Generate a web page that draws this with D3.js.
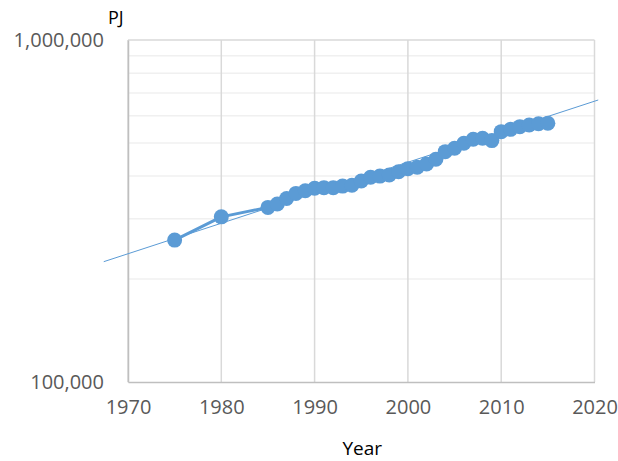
<!DOCTYPE html>
<html lang="en">
<head>
<meta charset="UTF-8">
<title>PJ by Year</title>
<style>
    body { margin: 0; background: #fff; }
    svg { display: block; }
    .tick text { font-family: "Open Sans", sans-serif; fill: #595959; }
</style>
</head>
<body>
<svg width="618" height="461"></svg>
<script src="https://d3js.org/d3.v7.min.js"></script>
<script>
    // Data
    var years = [1975, 1980, 1985, 1986, 1987, 1988, 1989, 1990, 1991, 1992, 1993, 1994,
        1995, 1996, 1997, 1998, 1999, 2000, 2001, 2002, 2003, 2004, 2005, 2006,
        2007, 2008, 2009, 2010, 2011, 2012, 2013, 2014, 2015];
    var values = [260000, 304000, 324000, 331500, 344000, 356000, 362500, 368500, 370000, 370000,
        374000, 376000, 387000, 397000, 400000, 403000, 412000, 420500, 424500, 434000,
        448000, 471500, 482500, 499000, 512500, 516000, 508000, 539500, 548000, 558000,
        564000, 569000, 571000];

    // exponential trendline end points (straight on the log axis)
    var trendYears = [1967.4, 2020.4];
    var trendValues = [224800, 667700];

    var xTicks = [1970, 1980, 1990, 2000, 2010, 2020];
    var yMajorTicks = [100000, 1000000];
    var yMinorTicks = [200000, 300000, 400000, 500000, 600000, 700000, 800000, 900000];

    var svg = d3.select("svg");
    var plotLeft = 128, plotTop = 40, plotRight = 594.5, plotBottom = 382;

    var x = d3.scaleLinear().domain([1970, 2020]).range([plotLeft, plotRight]);
    var y = d3.scaleLog().domain([100000, 1000000]).range([plotBottom, plotTop]);

    var color = "#5b9bd5";

    // minor horizontal gridlines
    svg.append("g").selectAll("line")
        .data(yMinorTicks)
        .enter().append("line")
        .attr("x1", plotLeft).attr("x2", plotRight)
        .attr("y1", function (d) { return y(d); })
        .attr("y2", function (d) { return y(d); })
        .attr("stroke", "#f0f0f0")
        .attr("stroke-width", 1.5);

    // vertical gridlines
    svg.append("g").selectAll("line")
        .data(xTicks)
        .enter().append("line")
        .attr("x1", function (d) { return x(d); })
        .attr("x2", function (d) { return x(d); })
        .attr("y1", plotTop).attr("y2", plotBottom)
        .attr("stroke", "#d9d9d9")
        .attr("stroke-width", 1.5);

    // top major gridline
    svg.append("line")
        .attr("x1", plotLeft).attr("x2", plotRight)
        .attr("y1", y(1000000)).attr("y2", y(1000000))
        .attr("stroke", "#d9d9d9").attr("stroke-width", 1.5);

    // axes
    var xAxis = svg.append("g")
        .attr("class", "x-axis")
        .attr("transform", "translate(0," + plotBottom + ")")
        .call(d3.axisBottom(x).tickValues(xTicks).tickSize(0).tickPadding(18).tickFormat(d3.format("d")));
    xAxis.select(".domain").attr("stroke", "#bfbfbf").attr("stroke-width", 1.5);
    xAxis.selectAll("text").style("font-size", "20px");

    var yAxis = svg.append("g")
        .attr("class", "y-axis")
        .attr("transform", "translate(" + plotLeft + ",0)")
        .call(d3.axisLeft(y).tickValues(yMajorTicks).tickSize(0).tickPadding(24).tickFormat(d3.format(",")));
    yAxis.select(".domain").attr("stroke", "#bfbfbf").attr("stroke-width", 1.5);
    yAxis.selectAll("text").style("font-size", "20px");

    // trendline
    var trend = trendYears.map(function (d, i) { return [d, trendValues[i]]; });
    svg.append("path")
        .datum(trend)
        .attr("fill", "none")
        .attr("stroke", color)
        .attr("stroke-width", 1)
        .attr("d", d3.line()
            .x(function (d) { return x(d[0]); })
            .y(function (d) { return y(d[1]); }));

    // data line
    var points = years.map(function (d, i) { return [d, values[i]]; });
    svg.append("path")
        .datum(points)
        .attr("fill", "none")
        .attr("stroke", color)
        .attr("stroke-width", 3)
        .attr("stroke-linejoin", "round")
        .attr("d", d3.line()
            .x(function (d) { return x(d[0]); })
            .y(function (d) { return y(d[1]); }));

    // markers
    svg.append("g").selectAll("circle")
        .data(points)
        .enter().append("circle")
        .attr("cx", function (d) { return x(d[0]); })
        .attr("cy", function (d) { return y(d[1]); })
        .attr("r", 7.5)
        .attr("fill", color);

    // axis titles
    svg.append("text")
        .attr("x", 108).attr("y", 24)
        .style("font-family", "'Open Sans', sans-serif")
        .style("font-size", "18px")
        .attr("fill", "#000")
        .text("PJ");

    svg.append("text")
        .attr("x", (plotLeft + plotRight) / 2 + 1).attr("y", 455)
        .attr("text-anchor", "middle")
        .style("font-family", "'Open Sans', sans-serif")
        .style("font-size", "19px")
        .attr("fill", "#000")
        .text("Year");
</script>
</body>
</html>
